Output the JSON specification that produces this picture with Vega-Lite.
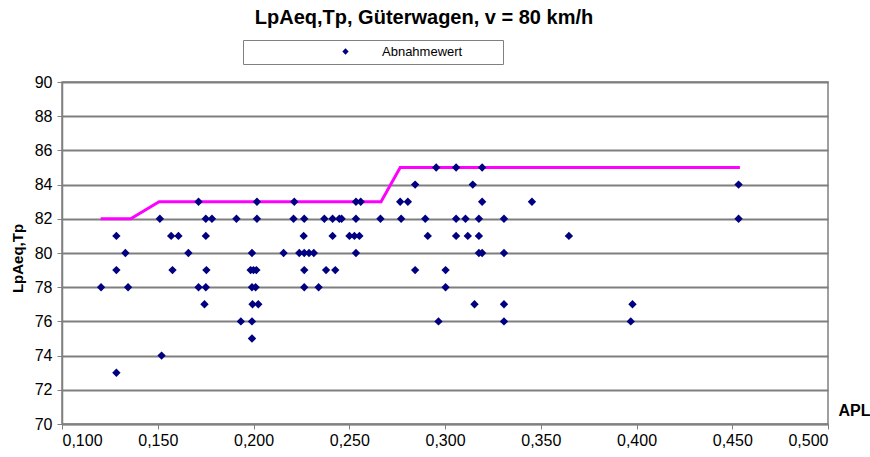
{
  "$schema": "https://vega.github.io/schema/vega-lite/v6.json",
  "autosize": {"type": "none"},
  "width": 766,
  "height": 342,
  "padding": {"left": 62, "top": 82, "right": 42, "bottom": 33},
  "background": "white",
  "config": {
    "font": "Liberation Sans",
    "view": {"stroke": "#808080", "strokeWidth": 1.5}
  },
  "title": {
    "text": "LpAeq,Tp, Güterwagen, v = 80 km/h",
    "font": "Liberation Sans",
    "fontSize": 20,
    "fontWeight": "bold",
    "color": "black",
    "anchor": "middle",
    "frame": "group",
    "baseline": "alphabetic",
    "dx": -21,
    "offset": -4
  },
  "datasets": {
    "pts": [
      {"apl": 0.2954, "l": 85}, {"apl": 0.3058, "l": 85}, {"apl": 0.3194, "l": 85},
      {"apl": 0.2844, "l": 84}, {"apl": 0.3145, "l": 84}, {"apl": 0.4533, "l": 84},
      {"apl": 0.1713, "l": 83}, {"apl": 0.2018, "l": 83}, {"apl": 0.2213, "l": 83}, {"apl": 0.2535, "l": 83}, {"apl": 0.256, "l": 83}, {"apl": 0.2766, "l": 83}, {"apl": 0.2806, "l": 83}, {"apl": 0.3194, "l": 83}, {"apl": 0.3454, "l": 83},
      {"apl": 0.1511, "l": 82}, {"apl": 0.1751, "l": 82}, {"apl": 0.1783, "l": 82}, {"apl": 0.1911, "l": 82}, {"apl": 0.2018, "l": 82}, {"apl": 0.2209, "l": 82}, {"apl": 0.2265, "l": 82}, {"apl": 0.237, "l": 82}, {"apl": 0.2413, "l": 82}, {"apl": 0.2448, "l": 82}, {"apl": 0.246, "l": 82}, {"apl": 0.2535, "l": 82}, {"apl": 0.2663, "l": 82}, {"apl": 0.2771, "l": 82}, {"apl": 0.2897, "l": 82}, {"apl": 0.3058, "l": 82}, {"apl": 0.3107, "l": 82}, {"apl": 0.3177, "l": 82}, {"apl": 0.3308, "l": 82}, {"apl": 0.4533, "l": 82},
      {"apl": 0.1284, "l": 81}, {"apl": 0.157, "l": 81}, {"apl": 0.1608, "l": 81}, {"apl": 0.1751, "l": 81}, {"apl": 0.2262, "l": 81}, {"apl": 0.2413, "l": 81}, {"apl": 0.2501, "l": 81}, {"apl": 0.2527, "l": 81}, {"apl": 0.2553, "l": 81}, {"apl": 0.291, "l": 81}, {"apl": 0.3058, "l": 81}, {"apl": 0.3119, "l": 81}, {"apl": 0.3177, "l": 81}, {"apl": 0.3647, "l": 81},
      {"apl": 0.1331, "l": 80}, {"apl": 0.166, "l": 80}, {"apl": 0.1992, "l": 80}, {"apl": 0.2157, "l": 80}, {"apl": 0.2239, "l": 80}, {"apl": 0.2265, "l": 80}, {"apl": 0.229, "l": 80}, {"apl": 0.2315, "l": 80}, {"apl": 0.2535, "l": 80}, {"apl": 0.3177, "l": 80}, {"apl": 0.3194, "l": 80}, {"apl": 0.3308, "l": 80},
      {"apl": 0.1284, "l": 79}, {"apl": 0.1577, "l": 79}, {"apl": 0.1754, "l": 79}, {"apl": 0.1985, "l": 79}, {"apl": 0.2, "l": 79}, {"apl": 0.2015, "l": 79}, {"apl": 0.2265, "l": 79}, {"apl": 0.2379, "l": 79}, {"apl": 0.2427, "l": 79}, {"apl": 0.2844, "l": 79}, {"apl": 0.3003, "l": 79},
      {"apl": 0.1204, "l": 78}, {"apl": 0.1345, "l": 78}, {"apl": 0.1713, "l": 78}, {"apl": 0.1751, "l": 78}, {"apl": 0.1992, "l": 78}, {"apl": 0.2011, "l": 78}, {"apl": 0.2265, "l": 78}, {"apl": 0.234, "l": 78}, {"apl": 0.3003, "l": 78},
      {"apl": 0.1744, "l": 77}, {"apl": 0.1995, "l": 77}, {"apl": 0.2025, "l": 77}, {"apl": 0.3154, "l": 77}, {"apl": 0.3308, "l": 77}, {"apl": 0.3979, "l": 77},
      {"apl": 0.1934, "l": 76}, {"apl": 0.1992, "l": 76}, {"apl": 0.2966, "l": 76}, {"apl": 0.3308, "l": 76}, {"apl": 0.397, "l": 76},
      {"apl": 0.1992, "l": 75},
      {"apl": 0.152, "l": 74},
      {"apl": 0.1284, "l": 73}
    ],
    "lim": [
      {"apl": 0.1202, "l": 82}, {"apl": 0.1359, "l": 82}, {"apl": 0.1507, "l": 83}, {"apl": 0.2666, "l": 83}, {"apl": 0.2766, "l": 85}, {"apl": 0.454, "l": 85}
    ]
  },
  "encoding": {
    "x": {
      "field": "apl", "type": "quantitative",
      "scale": {"domain": [0.1, 0.5], "nice": false, "zero": false},
      "axis": {
        "values": [0.1, 0.15, 0.2, 0.25, 0.3, 0.35, 0.4, 0.45, 0.5],
        "format": ".3f",
        "labelExpr": "replace(datum.label, '.', ',')",
        "labelOverlap": false,
        "grid": false,
        "domainColor": "#808080",
        "domainWidth": 1.5,
        "tickColor": "#808080",
        "tickSize": 5,
        "labelFont": "Liberation Sans",
        "labelFontSize": 16,
        "labelColor": "black",
        "labelPadding": 3,
        "title": "APL",
        "titleFont": "Liberation Sans",
        "titleFontSize": 16,
        "titleFontWeight": "bold",
        "titleColor": "black",
        "titleAlign": "left",
        "titleBaseline": "middle",
        "titleAnchor": "start",
        "titleX": 776,
        "titleY": -14
      }
    },
    "y": {
      "field": "l", "type": "quantitative",
      "scale": {"domain": [70, 90], "nice": false, "zero": false},
      "axis": {
        "values": [70, 72, 74, 76, 78, 80, 82, 84, 86, 88, 90],
        "labelOverlap": false,
        "grid": true,
        "gridColor": "#7f7f7f",
        "gridWidth": 2,
        "domainColor": "#808080",
        "domainWidth": 1.5,
        "tickColor": "#808080",
        "tickSize": 5,
        "labelFont": "Liberation Sans",
        "labelFontSize": 16,
        "labelColor": "black",
        "labelPadding": 5,
        "title": "LpAeq,Tp",
        "titleFont": "Liberation Sans",
        "titleFontSize": 15,
        "titleFontWeight": "bold",
        "titleColor": "black",
        "titleAngle": -90,
        "titleAlign": "center",
        "titleBaseline": "middle",
        "titleX": -45,
        "titleY": 176
      }
    }
  },
  "layer": [
    {
      "data": {"name": "lim"},
      "mark": {"type": "line", "color": "#FF00FF", "strokeWidth": 3}
    },
    {
      "data": {"name": "pts"},
      "transform": [{"calculate": "'Abnahmewert'", "as": "series"}],
      "mark": {"type": "point", "shape": "diamond", "filled": true, "size": 70, "opacity": 1},
      "encoding": {
        "color": {
          "field": "series", "type": "nominal",
          "scale": {"range": ["#000080"]},
          "legend": {
            "title": null,
            "orient": "none",
            "legendX": 181,
            "legendY": -42,
            "direction": "horizontal",
            "symbolType": "diamond",
            "symbolSize": 40,
            "symbolOffset": 91,
            "labelOffset": 30,
            "labelLimit": 300,
            "labelFont": "Liberation Sans",
            "labelFontSize": 13,
            "labelColor": "black",
            "labelExpr": "datum.label + '\u00a0\u00a0\u00a0\u00a0\u00a0\u00a0\u00a0\u2800'",
            "strokeColor": "#808080",
            "fillColor": "white",
            "padding": 5
          }
        }
      }
    }
  ]
}
